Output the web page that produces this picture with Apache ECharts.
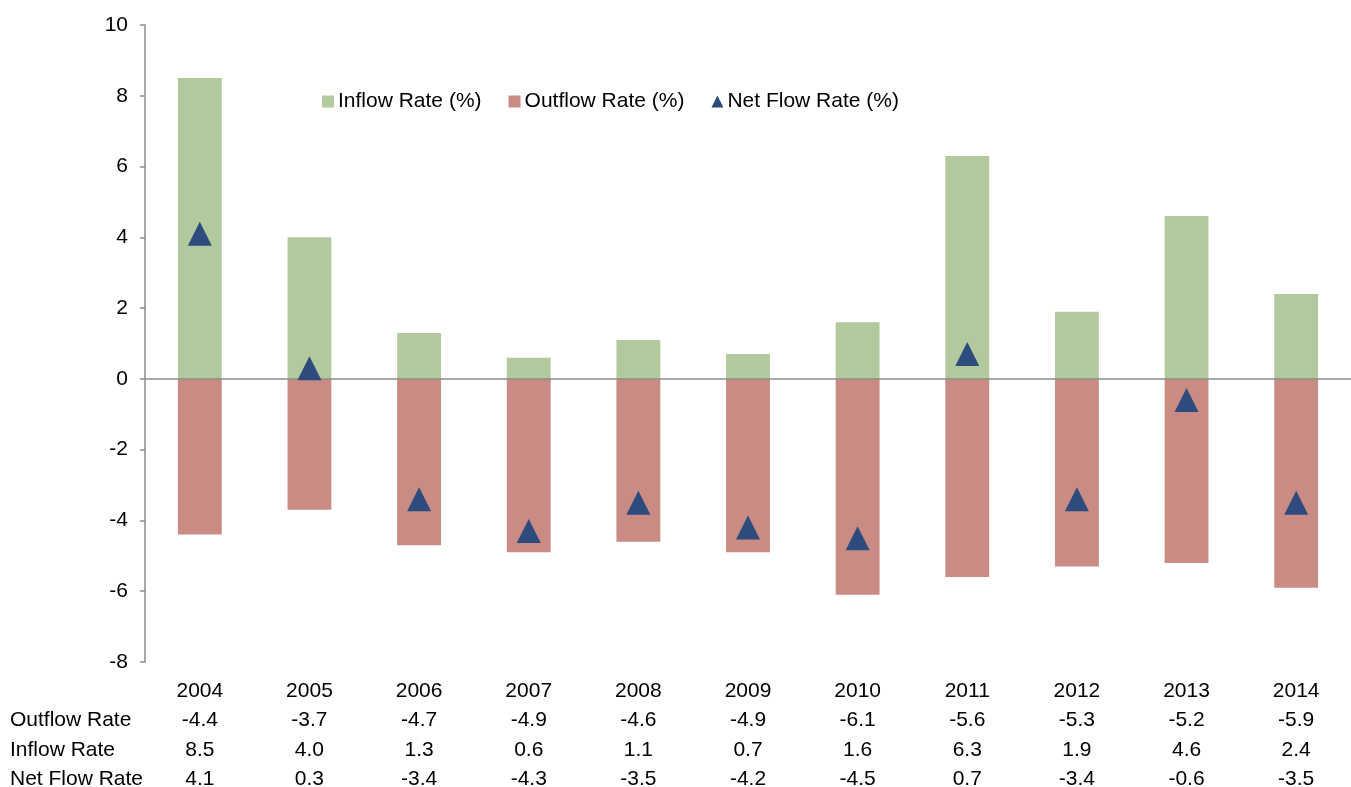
<!DOCTYPE html>
<html>
<head>
<meta charset="utf-8">
<script src="https://cdn.jsdelivr.net/npm/echarts@6/dist/echarts.min.js"></script>
<style>
  html, body { margin: 0; padding: 0; background: #fff; }
  #chart { width: 1351px; height: 787px; }
</style>
</head>
<body>
<div id="chart"></div>
<script>
// Annual flow rates, in percent
const years = ['2004', '2005', '2006', '2007', '2008', '2009', '2010', '2011', '2012', '2013', '2014'];
const outflowRate = [-4.4, -3.7, -4.7, -4.9, -4.6, -4.9, -6.1, -5.6, -5.3, -5.2, -5.9];
const inflowRate = [8.5, 4.0, 1.3, 0.6, 1.1, 0.7, 1.6, 6.3, 1.9, 4.6, 2.4];
const netFlowRate = [4.1, 0.3, -3.4, -4.3, -3.5, -4.2, -4.5, 0.7, -3.4, -0.6, -3.5];
const tableRows = ['Outflow Rate', 'Inflow Rate', 'Net Flow Rate'];

const FONT = '"Liberation Sans", Arial, sans-serif';
const FS = 21;
const ROW_H = 29.6;
const LABEL_MARGIN = 14;
const ROW_LABEL_TOP = 676;

const chart = echarts.init(document.getElementById('chart'));

chart.setOption({
  animation: false,
  textStyle: { fontFamily: FONT, color: '#000' },
  grid: { left: 145, right: 0, top: 25, bottom: 125, containLabel: false, outerBoundsMode: 'none' },
  legend: {
    left: 317,
    top: 86,
    itemWidth: 12,
    itemHeight: 12,
    itemGap: 27,
    textStyle: { fontFamily: FONT, fontSize: FS, color: '#000', padding: [0, 0, 0, -1] },
    data: [
      { name: 'Inflow Rate (%)', icon: 'rect' },
      { name: 'Outflow Rate (%)', icon: 'rect' },
      { name: 'Net Flow Rate (%)', icon: 'triangle' }
    ]
  },
  xAxis: {
    type: 'category',
    data: years,
    axisLine: { show: false },
    axisTick: { show: false },
    axisLabel: {
      margin: LABEL_MARGIN,
      interval: 0,
      formatter: (v, i) => [
        '{a|' + v + '}',
        '{a|' + outflowRate[i].toFixed(1) + '}',
        '{a|' + inflowRate[i].toFixed(1) + '}',
        '{a|' + netFlowRate[i].toFixed(1) + '}'
      ].join('\n'),
      rich: {
        a: { fontFamily: FONT, fontSize: FS, color: '#000', lineHeight: ROW_H, align: 'center' }
      }
    }
  },
  yAxis: {
    type: 'value',
    min: -8,
    max: 10,
    interval: 2,
    axisLine: { show: true, lineStyle: { color: '#8c8c8c', width: 1.5 } },
    axisTick: { show: true, inside: false, length: 5, lineStyle: { color: '#8c8c8c', width: 1.5 } },
    splitLine: { show: false },
    axisLabel: { margin: 17, fontFamily: FONT, fontSize: FS, color: '#000' }
  },
  graphic: tableRows.map((t, k) => ({
    type: 'text',
    left: 10,
    top: ROW_LABEL_TOP + ROW_H * (k + 1) + (ROW_H - FS) / 2,
    style: { text: t, fontFamily: FONT, fontSize: FS, fill: '#000' }
  })),
  series: [
    {
      name: 'Inflow Rate (%)',
      type: 'bar',
      stack: 'flow',
      barWidth: '40%',
      itemStyle: { color: '#b1c99c' },
      data: inflowRate,
      z: 2
    },
    {
      name: 'Outflow Rate (%)',
      type: 'bar',
      stack: 'flow',
      barWidth: '40%',
      itemStyle: { color: '#c98b84' },
      data: outflowRate,
      z: 2,
      markLine: {
        silent: true,
        symbol: 'none',
        label: { show: false },
        lineStyle: { color: '#8c8c8c', width: 1.5, type: 'solid' },
        data: [{ yAxis: 0 }],
        z: 3
      }
    },
    {
      name: 'Net Flow Rate (%)',
      type: 'scatter',
      symbol: 'triangle',
      symbolSize: 24,
      itemStyle: { color: '#2d4b7d', opacity: 1 },
      data: netFlowRate,
      z: 5
    }
  ]
});
</script>
</body>
</html>
